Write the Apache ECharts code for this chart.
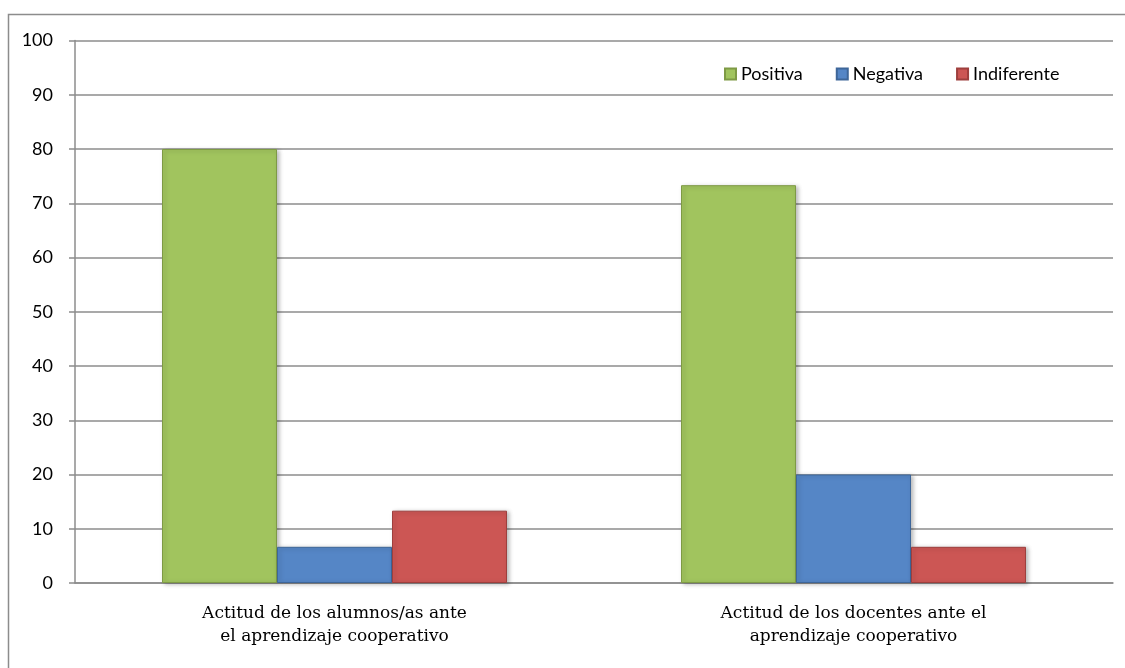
<!DOCTYPE html>
<html>
<head>
<meta charset="utf-8">
<script src="https://cdn.jsdelivr.net/npm/echarts@6/dist/echarts.min.js"></script>
<style>
  html, body { margin: 0; padding: 0; background: #fff; }
  #main { width: 1125px; height: 668px; }
</style>
</head>
<body>
<div id="main"></div>
<script>
// datos
var categorias = ['Actitud de los alumnos/as ante\nel aprendizaje cooperativo', 'Actitud de los docentes ante el\naprendizaje cooperativo'];
var positiva = [80, 73.33];
var negativa = [6.67, 20];
var indiferente = [13.33, 6.67];

var myChart = echarts.init(document.getElementById('main'));

var barra = function (nombre, datos, color, borde) {
    return {
        name: nombre,
        type: 'bar',
        data: datos,
        barWidth: 115,
        barGap: '0%',
        itemStyle: {
            color: color,
            borderColor: borde,
            borderWidth: 1,
            shadowBlur: 4,
            shadowOffsetX: 2,
            shadowOffsetY: 1,
            shadowColor: 'rgba(0,0,0,0.25)'
        }
    };
};

var option = {
    animation: false,
    backgroundColor: '#fff',
    graphic: [{
        type: 'rect',
        shape: { x: 8.5, y: 14.5, width: 1200, height: 700 },
        style: { fill: 'none', stroke: '#8c8c8c', lineWidth: 1.5 },
        silent: true
    }],
    legend: {
        left: 719,
        top: 60,
        itemWidth: 11,
        itemHeight: 11,
        itemGap: 33,
        icon: 'rect',
        textStyle: { fontFamily: 'Lato', fontSize: 18, color: '#000' },
        data: ['Positiva', 'Negativa', 'Indiferente']
    },
    grid: { left: 75, right: 12, top: 40.5, bottom: 85 },
    xAxis: {
        type: 'category',
        data: categorias,
        axisLine: { lineStyle: { color: '#8c8c8c', width: 1.5 } },
        axisTick: { show: false },
        axisLabel: {
            margin: 19,
            fontFamily: 'DejaVu Serif',
            fontSize: 17,
            lineHeight: 23,
            color: '#000'
        }
    },
    yAxis: {
        type: 'value',
        min: 0,
        max: 100,
        interval: 10,
        axisLine: { show: true, lineStyle: { color: '#8c8c8c', width: 1.5 } },
        axisTick: { show: true, length: 6, lineStyle: { color: '#8c8c8c', width: 1.5 } },
        splitLine: { lineStyle: { color: '#8c8c8c', width: 1.5 } },
        axisLabel: {
            margin: 22,
            fontFamily: 'Lato',
            fontSize: 18,
            color: '#000'
        }
    },
    series: [
        barra('Positiva', positiva, '#A1C45E', '#7E9A45'),
        barra('Negativa', negativa, '#5586C6', '#3E6699'),
        barra('Indiferente', indiferente, '#CC5654', '#9E3F3D')
    ]
};

myChart.setOption(option);
</script>
</body>
</html>
